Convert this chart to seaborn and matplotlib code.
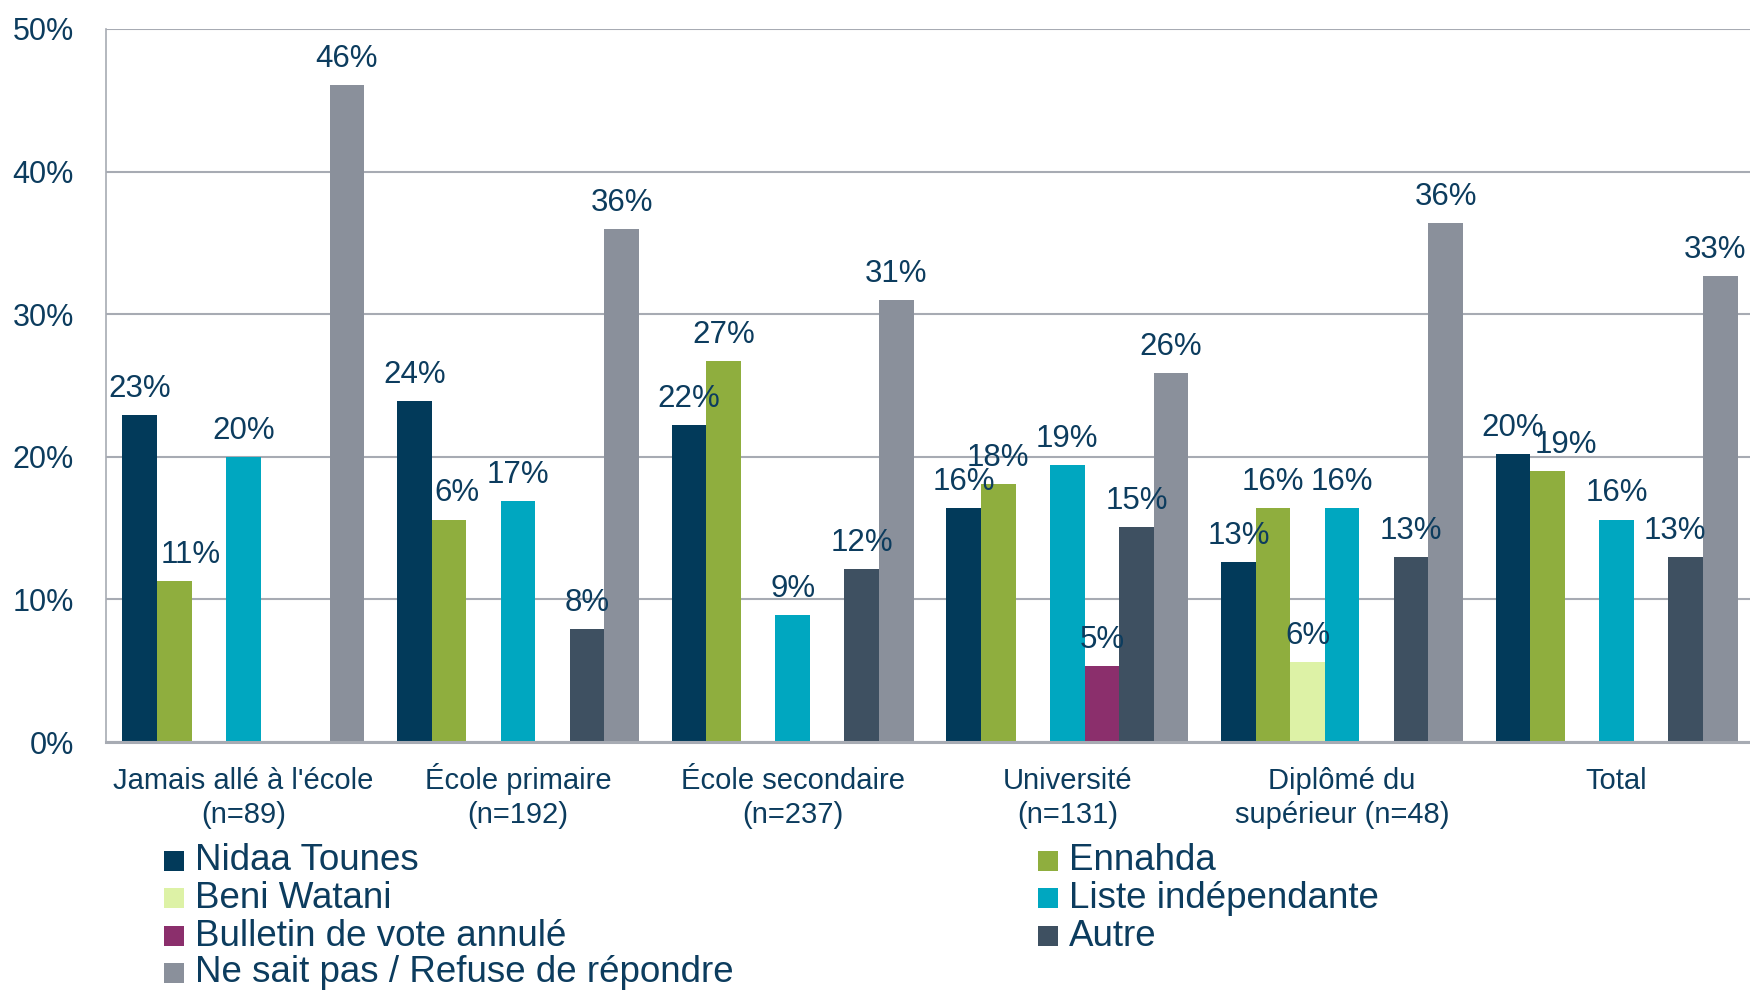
import matplotlib
matplotlib.use("Agg")
import matplotlib.pyplot as plt
import matplotlib.patches as mpatches
import pandas as pd
import seaborn as sns

# categories (x axis)
categories = ["Jamais allé à l'école\n(n=89)", "École primaire\n(n=192)",
              "École secondaire\n(n=237)", "Université\n(n=131)",
              "Diplômé du\nsupérieur (n=48)", "Total"]

parties = ["Nidaa Tounes", "Ennahda", "Beni Watani", "Liste indépendante",
           "Bulletin de vote annulé", "Autre", "Ne sait pas / Refuse de répondre"]

# bar heights per party, one value per category (in %)
nidaa = [22.9, 23.9, 22.2, 16.4, 12.6, 20.2]
ennahda = [11.3, 15.6, 26.7, 18.1, 16.4, 19.0]
beni = [0, 0, 0, 0, 5.6, 0]
liste = [20.0, 16.9, 8.9, 19.4, 16.4, 15.6]
bulletin = [0, 0, 0, 5.3, 0, 0]
autre = [0, 7.9, 12.1, 15.1, 13.0, 13.0]
nsp = [46.1, 36.0, 31.0, 25.9, 36.4, 32.7]

# labels as printed on the chart
nidaa_lbl = ["23%", "24%", "22%", "16%", "13%", "20%"]
ennahda_lbl = ["11%", "6%", "27%", "18%", "16%", "19%"]
beni_lbl = ["", "", "", "", "6%", ""]
liste_lbl = ["20%", "17%", "9%", "19%", "16%", "16%"]
bulletin_lbl = ["", "", "", "5%", "", ""]
autre_lbl = ["", "8%", "12%", "15%", "13%", "13%"]
nsp_lbl = ["46%", "36%", "31%", "26%", "36%", "33%"]

yticks = [0, 10, 20, 30, 40, 50]
ytick_labels = ["0%", "10%", "20%", "30%", "40%", "50%"]

colors = ["#023A5A", "#8FAE3E", "#DDF2A6", "#00A7C0", "#8B2F6C", "#3E5061", "#8A909B"]
text_color = "#0C3C5E"
grid_color = "#A7ABB3"

values = [nidaa, ennahda, beni, liste, bulletin, autre, nsp]
labels = [nidaa_lbl, ennahda_lbl, beni_lbl, liste_lbl, bulletin_lbl, autre_lbl, nsp_lbl]

rows = []
for p, vals in zip(parties, values):
    for c, v in zip(categories, vals):
        rows.append({"cat": c, "party": p, "val": v})
df = pd.DataFrame(rows)

sns.set_style("white")
plt.rcParams["font.family"] = ["Liberation Sans", "DejaVu Sans"]

fig = plt.figure(figsize=(17.5, 9.9), dpi=100)
ax = fig.add_axes([106 / 1750, 1 - 742 / 990, 1648 / 1750, (742 - 29) / 990])

sns.barplot(data=df, x="cat", y="val", hue="party", order=categories,
            hue_order=parties, palette=colors, width=0.88, saturation=1,
            linewidth=0, legend=False, ax=ax)

ax.set_xlim(-0.5, 5.5)
ax.set_ylim(0, 50)
ax.set_xlabel("")
ax.set_ylabel("")

# small nudges (points) for labels that sit aside of their bar
nudge = {(1, 0): 12, (1, 1): 6, (1, 5): 13, (5, 5): -8, (6, 5): -4}

for i, cont in enumerate(ax.containers):
    for j, bar in enumerate(cont):
        txt = labels[i][j]
        if not txt:
            continue
        ax.annotate(txt, (bar.get_x() + bar.get_width() / 2, bar.get_height()),
                    xytext=(nudge.get((i, j), 0), 13), textcoords="offset points",
                    ha="center", va="baseline", fontsize=22.5, color=text_color,
                    annotation_clip=False)

ax.set_yticks(yticks)
ax.set_yticklabels(ytick_labels)
ax.yaxis.grid(True, color=grid_color, linewidth=1.5)
ax.set_axisbelow(True)
ax.tick_params(axis="y", length=8, width=1.2, color=grid_color, pad=15,
               labelsize=22, labelcolor=text_color)

# every tick label gets two lines so all first lines share one baseline
tick_text = [c if "\n" in c else c + "\n " for c in categories]
ax.set_xticks(range(len(categories)))
ax.set_xticklabels(tick_text, linespacing=1.27, va="baseline")
ax.set_xticks([x - 0.5 for x in range(len(categories) + 1)], minor=True)
ax.tick_params(axis="x", which="major", length=0, pad=58, labelsize=21,
               labelcolor=text_color)
ax.tick_params(axis="x", which="minor", length=20, width=1.2, color=grid_color)

for s in ["top", "right"]:
    ax.spines[s].set_visible(False)
ax.spines["left"].set_color(grid_color)
ax.spines["left"].set_linewidth(1.2)
ax.spines["bottom"].set_color(grid_color)
ax.spines["bottom"].set_linewidth(2.2)

# legend, two columns filled row by row
col_x = [164, 1038]
row_y = [861, 898, 936, 973]
for k, (p, col) in enumerate(zip(parties, colors)):
    x0 = col_x[k % 2]
    y0 = row_y[k // 2]
    fig.add_artist(mpatches.Rectangle((x0 / 1750, 1 - (y0 + 10) / 990), 20 / 1750, 20 / 990,
                                      transform=fig.transFigure, color=col, linewidth=0))
    fig.text((x0 + 31) / 1750, 1 - y0 / 990, p, fontsize=26.5, color=text_color,
             ha="left", va="center")

fig.savefig("out.png", dpi=100)
